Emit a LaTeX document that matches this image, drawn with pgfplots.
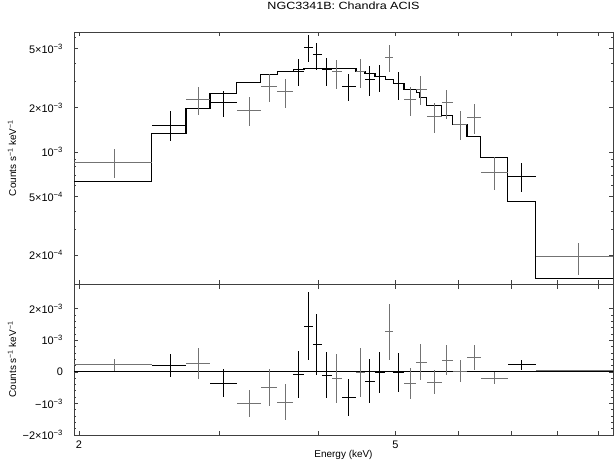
\documentclass[border=0pt]{standalone}
\usepackage{fontspec}
\setmainfont{Liberation Sans}
\newfontfamily\titlefont[FakeStretch=1.2]{Liberation Sans}
\usepackage{pgfplots}
\pgfplotsset{compat=1.18}
\usepackage{pgfplotstable}

\definecolor{dgray}{gray}{0.45}
\definecolor{framec}{gray}{0.25}

% spectrum data, black set
\pgfplotstableread{
x xlo xhi y ylo yhi
2.603 2.468 2.726 1.527e-3 1.188e-3 1.883e-3
3.037 2.922 3.157 2.168e-3 1.714e-3 2.600e-3
3.774 3.720 3.837 3.501e-3 2.786e-3 4.272e-3
3.885 3.837 3.938 5.076e-3 4.057e-3 6.221e-3
3.980 3.938 4.039 4.569e-3 3.613e-3 5.489e-3
4.098 4.039 4.161 3.652e-3 2.812e-3 4.319e-3
4.362 4.280 4.461 2.786e-3 2.223e-3 3.378e-3
4.636 4.578 4.713 3.123e-3 2.404e-3 3.846e-3
4.772 4.713 4.852 3.237e-3 2.535e-3 3.889e-3
5.042 4.970 5.126 2.920e-3 2.258e-3 3.501e-3
7.210 6.923 7.509 6.87e-4 5.34e-4 8.47e-4
}\specA
% spectrum data, gray set
\pgfplotstableread{
x xlo xhi y ylo yhi
2.218 1.960 2.468 8.55e-4 6.70e-4 1.043e-3
2.825 2.726 2.922 2.258e-3 1.777e-3 2.742e-3
3.272 3.157 3.385 1.921e-3 1.503e-3 2.345e-3
3.467 3.385 3.551 2.786e-3 2.189e-3 3.378e-3
3.631 3.551 3.720 2.559e-3 1.974e-3 3.123e-3
4.218 4.161 4.280 3.501e-3 2.670e-3 4.226e-3
4.513 4.461 4.578 3.501e-3 2.700e-3 4.272e-3
4.912 4.852 4.970 4.340e-3 3.468e-3 5.261e-3
5.216 5.126 5.308 2.258e-3 1.758e-3 2.742e-3
5.380 5.308 5.475 2.670e-3 2.078e-3 3.258e-3
5.592 5.475 5.718 1.741e-3 1.355e-3 2.145e-3
5.801 5.718 5.900 2.168e-3 1.669e-3 2.629e-3
6.029 5.900 6.153 1.543e-3 1.207e-3 1.901e-3
6.279 6.153 6.402 1.714e-3 1.320e-3 2.111e-3
6.654 6.402 6.923 7.31e-4 5.51e-4 9.30e-4
8.494 7.509 9.610 1.961e-4 1.472e-4 2.418e-4
}\specB
% model (left bin edges)
\pgfplotstableread{
x y
1.960 6.35e-4
2.468 1.340e-3
2.726 1.983e-3
2.922 2.507e-3
3.157 2.965e-3
3.385 3.341e-3
3.551 3.501e-3
3.720 3.613e-3
3.837 3.693e-3
4.161 3.652e-3
4.461 3.501e-3
4.578 3.378e-3
4.713 3.237e-3
4.852 3.089e-3
4.970 2.920e-3
5.126 2.641e-3
5.308 2.535e-3
5.369 2.345e-3
5.475 2.056e-3
5.718 1.777e-3
5.900 1.543e-3
6.153 1.279e-3
6.402 9.25e-4
6.923 4.64e-4
7.509 1.398e-4
9.610 1.398e-4
}\model
% residuals, black set
\pgfplotstableread{
x xlo xhi r e
2.603 2.468 2.726 0.19e-3 0.36e-3
3.037 2.922 3.157 -0.35e-3 0.45e-3
3.774 3.720 3.837 -0.09e-3 0.74e-3
3.885 3.837 3.938 1.45e-3 1.09e-3
3.980 3.938 4.039 0.87e-3 0.96e-3
4.098 4.039 4.161 -0.10e-3 0.74e-3
4.362 4.280 4.461 -0.81e-3 0.58e-3
4.636 4.578 4.713 -0.29e-3 0.69e-3
4.772 4.713 4.852 -0.02e-3 0.66e-3
5.042 4.970 5.126 -0.02e-3 0.62e-3
7.210 6.923 7.509 0.22e-3 0.17e-3
}\resA
% residuals, gray set
\pgfplotstableread{
x xlo xhi r e
2.218 1.960 2.468 0.22e-3 0.20e-3
2.825 2.726 2.922 0.26e-3 0.50e-3
3.272 3.157 3.385 -1.00e-3 0.42e-3
3.467 3.385 3.551 -0.50e-3 0.59e-3
3.631 3.551 3.720 -0.96e-3 0.57e-3
4.218 4.161 4.280 -0.21e-3 0.78e-3
4.513 4.461 4.578 -0.02e-3 0.78e-3
4.912 4.852 4.970 1.27e-3 0.88e-3
5.216 5.126 5.308 -0.38e-3 0.49e-3
5.380 5.308 5.475 0.31e-3 0.58e-3
5.592 5.475 5.718 -0.32e-3 0.39e-3
5.801 5.718 5.900 0.37e-3 0.47e-3
6.029 5.900 6.153 0.02e-3 0.34e-3
6.279 6.153 6.402 0.45e-3 0.40e-3
6.654 6.402 6.923 -0.20e-3 0.19e-3
8.494 7.509 9.610 0.05e-3 0.02e-3
}\resB

\pgfplotsset{
  mystyle/.style={
    scale only axis, width=539bp,
    xmin=1.971, xmax=9.39,
    xtick={2,3,4,5,6,7,8,9}, minor xtick={},
    tick align=inside, xtick pos=both, ytick pos=both,
    xticklabel pos=bottom, yticklabel pos=left,
    major tick length=4.5bp, minor tick length=2.5bp,
    every tick/.style={framec, line width=0.6bp},
    axis line style={framec, line width=0.9bp},
    ticklabel style={font=\fontsize{11}{12}\selectfont},
    yticklabel style={xshift=-7.5bp},
    xticklabel style={yshift=-2.5bp},
    label style={font=\fontsize{11}{13}\selectfont},
    every axis y label/.style={at={(axis description cs:-0.115,0.5)}, rotate=90, anchor=center},
    clip=true,
  },
  crossA/.style={draw=none, mark=none, forget plot,
    error bars/.cd, x dir=both, x explicit, y dir=both, y explicit,
    error mark=none, error bar style={black, line width=0.75bp}},
  crossB/.style={draw=none, mark=none, forget plot,
    error bars/.cd, x dir=both, x explicit, y dir=both, y explicit,
    error mark=none, error bar style={dgray, line width=0.75bp}},
}

\begin{document}
\begin{tikzpicture}
\useasboundingbox (0,0) rectangle (614bp,468bp);

\begin{axis}[xmode=log, ymode=log, mystyle,
  at={(74bp,184bp)}, anchor=south west, height=252bp,
  ymin=1.28e-4, ymax=6.49e-3,
  xticklabels={},
  ytick={2e-4,5e-4,1e-3,2e-3,5e-3},
  yticklabels={2×10\textsuperscript{−4},5×10\textsuperscript{−4},10\textsuperscript{−3},2×10\textsuperscript{−3},5×10\textsuperscript{−3}},
  minor ytick={3e-4,4e-4,6e-4,7e-4,8e-4,9e-4,3e-3,4e-3,6e-3},
  ylabel={Counts s\textsuperscript{−1} keV\textsuperscript{−1}},
  title={NGC3341B: Chandra ACIS},
  title style={at={(axis description cs:0.5,1.079)}, anchor=center, font=\titlefont\fontsize{10.5}{12}\selectfont},
]
\addplot[const plot, black, line width=1.1bp] table[x=x, y=y] {\model};
\addplot[crossB] table[x=x, y=y,
  x error plus expr=\thisrow{xhi}-\thisrow{x}, x error minus expr=\thisrow{x}-\thisrow{xlo},
  y error plus expr=\thisrow{yhi}-\thisrow{y}, y error minus expr=\thisrow{y}-\thisrow{ylo}] {\specB};
\addplot[crossA] table[x=x, y=y,
  x error plus expr=\thisrow{xhi}-\thisrow{x}, x error minus expr=\thisrow{x}-\thisrow{xlo},
  y error plus expr=\thisrow{yhi}-\thisrow{y}, y error minus expr=\thisrow{y}-\thisrow{ylo}] {\specA};
\end{axis}

\begin{axis}[xmode=log, mystyle,
  at={(74bp,33bp)}, anchor=south west, height=151bp,
  ymin=-2e-3, ymax=2.78e-3,
  scaled y ticks=false,
  xticklabels={2,,,5,,,,},
  ytick={-2e-3,-1e-3,0,1e-3,2e-3},
  yticklabels={−2×10\textsuperscript{−3},−10\textsuperscript{−3},0,10\textsuperscript{−3},2×10\textsuperscript{−3}},
  minor y tick num=4,
  ylabel={Counts s\textsuperscript{−1} keV\textsuperscript{−1}},
  xlabel={Energy (keV)},
  xlabel style={font=\titlefont\fontsize{10}{12}\selectfont},
  every axis x label/.style={at={(axis description cs:0.5,-0.132)}, anchor=center},
]
\addplot[black, line width=0.8bp, forget plot] coordinates {(1.9,0) (10,0)};
\addplot[crossB] table[x=x, y=r,
  x error plus expr=\thisrow{xhi}-\thisrow{x}, x error minus expr=\thisrow{x}-\thisrow{xlo},
  y error=e] {\resB};
\addplot[crossA] table[x=x, y=r,
  x error plus expr=\thisrow{xhi}-\thisrow{x}, x error minus expr=\thisrow{x}-\thisrow{xlo},
  y error=e] {\resA};
\end{axis}
\end{tikzpicture}
\end{document}
